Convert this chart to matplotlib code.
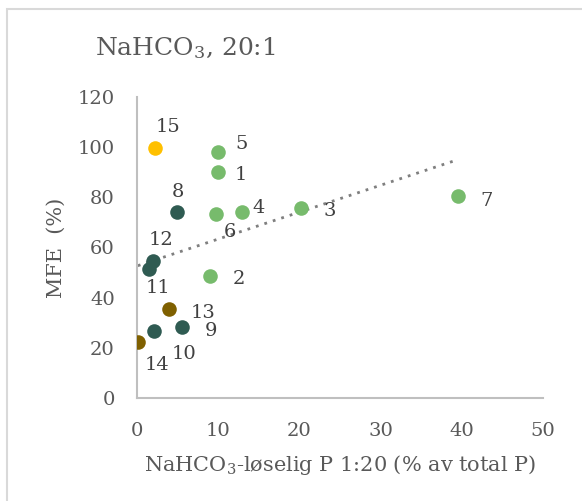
import matplotlib
matplotlib.use("Agg")
import matplotlib.pyplot as plt
import numpy as np
from matplotlib.patches import Rectangle

# data
labels = ["1", "2", "3", "4", "5", "6", "7", "8", "9", "10", "11", "12", "13", "14", "15"]
x_vals = [10.0, 9.0, 20.2, 12.9, 10.0, 9.75, 39.5, 4.9, 5.6, 2.1, 1.5, 2.0, 3.9, 0.1, 2.2]
y_vals = [90.2, 48.6, 75.6, 74.0, 98.1, 73.3, 80.5, 74.2, 28.2, 26.8, 51.4, 54.7, 35.5, 22.3, 99.5]
groups = ["g", "g", "g", "g", "g", "g", "g", "d", "d", "d", "d", "d", "o", "o", "y"]

colors = {"g": "#77BB6C", "d": "#2F5B52", "o": "#7F6000", "y": "#FFC000"}
# label offsets in pixels (dx, dy), dy up is positive
offsets = {"1": (23, -3), "2": (29, -3), "3": (29, -3), "4": (17, 4), "5": (23, 8),
           "6": (14, -18), "7": (29, -5), "8": (1, 20), "9": (29, -4), "10": (30, -23),
           "11": (9, -19), "12": (8, 21), "13": (34, -4), "14": (19, -23), "15": (13, 21)}

plt.rcParams['font.family'] = ['DejaVu Serif']
plt.rcParams['mathtext.fontset'] = 'dejavuserif'

fig = plt.figure(figsize=(5.82, 5.01), dpi=100)
# chart border, right and bottom edges fall outside the picture
fig.patches.append(Rectangle((7 / 582, -0.1), 1.0, 1 - 9 / 501 + 0.1, transform=fig.transFigure,
                             fill=False, edgecolor="#D9D9D9", linewidth=1.5))
ax = fig.add_axes([137 / 582, 1 - 398 / 501, 406 / 582, 301 / 501])

for xi, yi, g, lab in zip(x_vals, y_vals, groups, labels):
    ax.scatter(xi, yi, s=110, color=colors[g], zorder=3, linewidths=0)
    ax.annotate(lab, (xi, yi), xytext=offsets[lab], textcoords="offset pixels",
                ha="center", va="center", fontsize=14, color="#404040", zorder=4)

# linear trend over all points
k, m = np.polyfit(x_vals, y_vals, 1)
tx = np.array([min(x_vals), max(x_vals)])
ax.plot(tx, k * tx + m, linestyle=(0, (1, 2.2)), color="#7F7F7F", linewidth=2, zorder=2)

ax.set_xlim(0, 50)
ax.set_ylim(0, 120)
ax.set_xticks(range(0, 51, 10))
ax.set_yticks(range(0, 121, 20))
for s in ["top", "right"]:
    ax.spines[s].set_visible(False)
for s in ["left", "bottom"]:
    ax.spines[s].set_color("#BFBFBF")
    ax.spines[s].set_linewidth(1.5)
ax.tick_params(axis="y", length=0, labelsize=14, colors="#595959", pad=16)
ax.tick_params(axis="x", length=0, labelsize=14, colors="#595959", pad=17)

ax.set_xlabel(r"NaHCO$_3$-løselig P 1:20 (% av total P)", fontsize=15, color="#595959", va="center")
ax.xaxis.set_label_coords(0.5, (398 - 465) / 301)
ax.set_ylabel("MFE  (%)", fontsize=15, color="#595959", va="center", ha="center")
ax.yaxis.set_label_coords((56 - 137) / 406, 0.5)
fig.text(95 / 582, 1 - 55 / 501, r"NaHCO$_3$, 20:1", fontsize=18, color="#595959",
         va="baseline", ha="left")

fig.savefig("out.png", dpi=100)
